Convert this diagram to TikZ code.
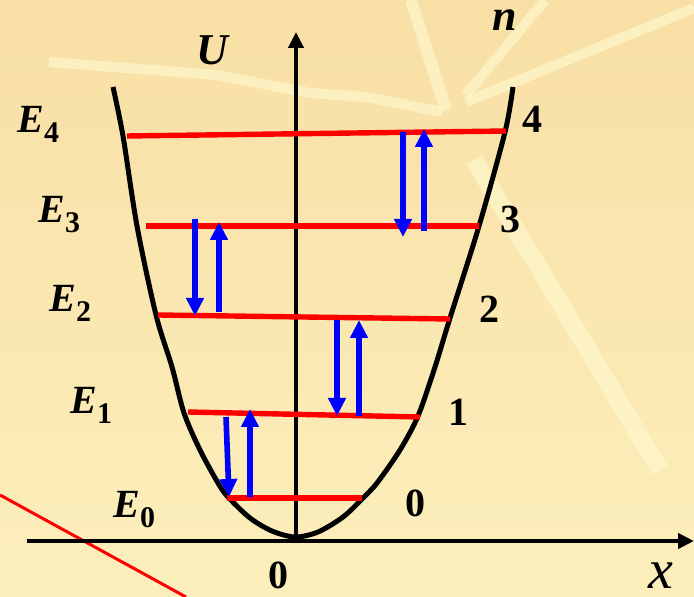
\documentclass[tikz,border=0pt]{standalone}
\usepackage{fontspec}
\setmainfont{Liberation Serif}
\usetikzlibrary{arrows.meta}
\definecolor{paper}{HTML}{F8DFA5}
\definecolor{paperlow}{HTML}{FCEFBC}
\definecolor{streak}{HTML}{FEF6C9}
\tikzset{
  level/.style={red, line width=2.7pt},
  jump/.style={blue, line width=2.8pt, -{Triangle[width=8.5pt,length=9pt]}},
  axis/.style={line width=2pt, -{Triangle[width=7.5pt,length=8pt]}},
  lbl/.style={inner sep=0pt, anchor=base west},
  numlbl/.style={lbl, font=\fontsize{20}{20}\selectfont\bfseries},
}
\newcommand{\elab}[1]{\textbf{\textit{E}}\raisebox{-5pt}{\fontsize{15}{15}\selectfont\bfseries #1}}

\begin{document}
\begin{tikzpicture}[x=0.5pt,y=-0.5pt]
  \useasboundingbox (0,0) rectangle (694,597);
  \clip (0,0) rectangle (694,597);
  % background
  \shade[top color=paper, bottom color=paperlow] (0,0) rectangle (694,597);
  \begin{scope}[streak, opacity=0.75]
    \draw[line width=5pt, line join=round] (49,62) -- (217,75) -- (310,93) -- (367,97) -- (442,112);
    \draw[line width=6pt] (411,0) -- (446,110);
    \draw[line width=5pt] (545,0) -- (466,95);
    \draw[line width=5pt] (466,102) -- (694,8);
    \draw[line width=9pt] (474,160) -- (660,470);
  \end{scope}
  \draw[red, line width=1.5pt] (0,495) -- (186,597);

  % axes
  \draw[axis] (27,541) -- (694,541);
  \draw[axis] (296,541) -- (296,32);

  % potential well
  \draw[line width=2.5pt, line join=round] plot[smooth, tension=0.5] coordinates {
    (113,87) (123,136) (137,226) (156,315) (172,367) (184,413) (200,450)
    (218,483) (228,497) (250,518) (272,531) (295,537) (318,532) (343,517)
    (362,499) (377,483) (400,450) (418,416) (435,367) (450,318) (479,226)
    (505,132) (513,87)};

  % energy levels
  \draw[level] (227,498) -- (362,498);
  \draw[level] (188,412) -- (420,417);
  \draw[level] (158,315) -- (450,319);
  \draw[level] (146,226) -- (479,226);
  \draw[level] (127,136) -- (506,131);

  % transitions
  \draw[jump] (226,417) -- (229,497);
  \draw[jump] (250,497) -- (250,409);
  \draw[jump] (337,320) -- (337,416);
  \draw[jump] (359,416) -- (359,320);
  \draw[jump] (195,219) -- (195,316);
  \draw[jump] (219,312) -- (219,222);
  \draw[jump] (403,132) -- (403,237);
  \draw[jump] (424,231) -- (424,129);

  % labels
  \node[lbl, font=\fontsize{20}{20}\selectfont] (e4) at (17,133) {\elab{4}};
  \node[lbl, font=\fontsize{20}{20}\selectfont] (e3) at (38,223) {\elab{3}};
  \node[lbl, font=\fontsize{20}{20}\selectfont] (e2) at (49,312) {\elab{2}};
  \node[lbl, font=\fontsize{20}{20}\selectfont] (e1) at (70,414) {\elab{1}};
  \node[lbl, font=\fontsize{20}{20}\selectfont] (e0) at (113,517) {\elab{0}};
  \node[numlbl] (n4) at (522,133) {4};
  \node[numlbl] (n3) at (500,233) {3};
  \node[numlbl] (n2) at (479,323) {2};
  \node[numlbl] (n1) at (448,425) {1};
  \node[numlbl] (n0) at (405,516) {0};
  \node[numlbl] (orig) at (268,588) {0};
  \node[lbl, font=\fontsize{22}{22}\selectfont\bfseries\itshape] (ulbl) at (196,65) {U};
  \node[lbl, font=\fontsize{22}{22}\selectfont\bfseries\itshape] (nlbl) at (492,31) {n};
  \node[lbl, font=\fontsize{28}{28}\selectfont\itshape] (xlbl) at (648,588) {x};
\end{tikzpicture}
\end{document}
